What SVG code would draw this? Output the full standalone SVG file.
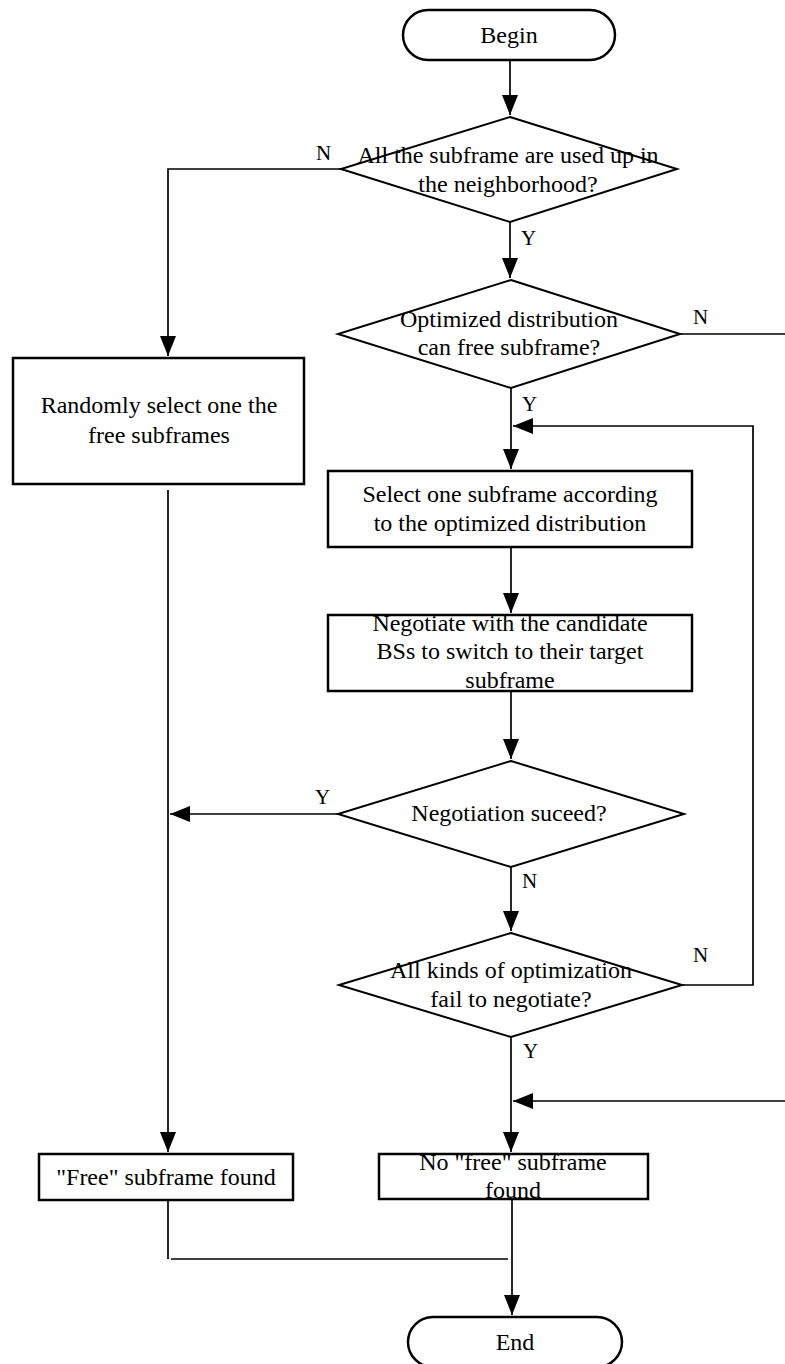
<svg xmlns="http://www.w3.org/2000/svg" width="785" height="1364" viewBox="0 0 785 1364">
<defs>
<style>
.box{fill:#fff;stroke:#000;stroke-width:2.5}
.dia{fill:#fff;stroke:#000;stroke-width:2}
.ln{fill:none;stroke:#000;stroke-width:1.7}
.t{font-family:"Liberation Serif","Times New Roman",serif;font-size:24px;fill:#000;text-anchor:middle}
.lb{font-family:"Liberation Serif","Times New Roman",serif;font-size:21px;fill:#000}
</style>
<marker id="ah" markerUnits="userSpaceOnUse" markerWidth="22" markerHeight="18" refX="20" refY="8" orient="auto">
<path d="M0,0 L20,8 L0,16 Z" fill="#000"/>
</marker>
</defs>
<rect width="785" height="1364" fill="#fff"/>
<g id="connectors">
<path class="ln" d="M510,60 V115" marker-end="url(#ah)"/>
<path class="ln" d="M341,169 H168 V356" marker-end="url(#ah)"/>
<path class="ln" d="M510,222 V278" marker-end="url(#ah)"/>
<path class="ln" d="M680,334 H790"/>
<path class="ln" d="M168,490 V1152" marker-end="url(#ah)"/>
<path class="ln" d="M511,388 V469" marker-end="url(#ah)"/>
<path class="ln" d="M682,985 H753 V426 H513" marker-end="url(#ah)"/>
<path class="ln" d="M511,547 V613" marker-end="url(#ah)"/>
<path class="ln" d="M511,691 V759" marker-end="url(#ah)"/>
<path class="ln" d="M338,814 H170" marker-end="url(#ah)"/>
<path class="ln" d="M511,867 V931" marker-end="url(#ah)"/>
<path class="ln" d="M511,1037 V1152" marker-end="url(#ah)"/>
<path class="ln" d="M790,334 V1101 H513" marker-end="url(#ah)"/>
<path class="ln" d="M168,1200 V1259"/>
<path class="ln" d="M171,1259 H508"/>
<path class="ln" d="M512,1199 V1315" marker-end="url(#ah)"/>
<text class="lb" x="316" y="160">N</text>
<text class="lb" x="521" y="245">Y</text>
<text class="lb" x="693" y="324">N</text>
<text class="lb" x="522" y="411">Y</text>
<text class="lb" x="315" y="804">Y</text>
<text class="lb" x="522" y="888">N</text>
<text class="lb" x="693" y="962">N</text>
<text class="lb" x="523" y="1058">Y</text>
</g>
<g id="begin">
<rect class="box" x="403" y="10" width="212" height="50" rx="25" ry="25"/>
<text class="t" x="509" y="43">Begin</text>
</g>
<g id="d1">
<polygon class="dia" points="510,117 677,169 510,222 341,169"/>
<text class="t" x="508" y="163">All the subframe are used up in</text>
<text class="t" x="508" y="192">the neighborhood?</text>
</g>
<g id="d2">
<polygon class="dia" points="511,280 680,334 511,388 338,334"/>
<text class="t" x="509" y="327">Optimized distribution</text>
<text class="t" x="509" y="355">can free subframe?</text>
</g>
<g id="random">
<rect class="box" x="13" y="358" width="291" height="126"/>
<text class="t" x="159" y="413">Randomly select one the</text>
<text class="t" x="159" y="443">free subframes</text>
</g>
<g id="select">
<rect class="box" x="328" y="471" width="364" height="76"/>
<text class="t" x="510" y="502">Select one subframe according</text>
<text class="t" x="510" y="531">to the optimized distribution</text>
</g>
<g id="negotiate">
<rect class="box" x="328" y="615" width="364" height="76"/>
<text class="t" x="510" y="631">Negotiate with the candidate</text>
<text class="t" x="510" y="659">BSs to switch to their target</text>
<text class="t" x="510" y="688">subframe</text>
</g>
<g id="d3">
<polygon class="dia" points="511,761 684,814 511,867 338,814"/>
<text class="t" x="509" y="821">Negotiation suceed?</text>
</g>
<g id="d4">
<polygon class="dia" points="511,933 682,985 511,1037 339,985"/>
<text class="t" x="511" y="978">All kinds of optimization</text>
<text class="t" x="511" y="1007">fail to negotiate?</text>
</g>
<g id="free">
<rect class="box" x="39" y="1154" width="254" height="46"/>
<text class="t" x="166" y="1185">"Free" subframe found</text>
</g>
<g id="nofree">
<rect class="box" x="379" y="1154" width="269" height="45"/>
<text class="t" x="513" y="1170">No "free" subframe</text>
<text class="t" x="513" y="1198">found</text>
</g>
<g id="end">
<rect class="box" x="408" y="1317" width="214" height="50" rx="25" ry="25"/>
<text class="t" x="515" y="1350">End</text>
</g>
</svg>
